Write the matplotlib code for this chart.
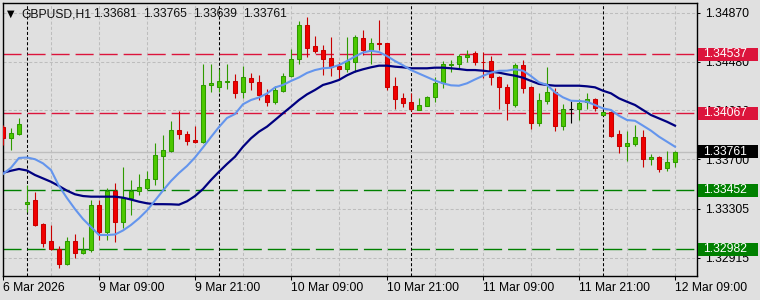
import matplotlib
matplotlib.use("Agg")
import matplotlib.pyplot as plt
from matplotlib.patches import Rectangle
from matplotlib.transforms import blended_transform_factory

plt.rcParams['font.family'] = ['Liberation Sans', 'DejaVu Sans']
plt.rcParams['lines.scale_dashes'] = False

# GBPUSD H1 bars, 6 Mar 21:00 .. 12 Mar 09:00
opens = [1.33957, 1.33867, 1.33901, 1.33346, 1.33374, 1.33183, 1.33047, 1.32986, 1.32861, 1.33047,
         1.32949, 1.32975, 1.33334, 1.33115, 1.33449, 1.33201, 1.33393, 1.33449, 1.33473, 1.33540,
         1.33728, 1.33768, 1.33933, 1.33901, 1.33853, 1.33838, 1.34289, 1.34273, 1.34318, 1.34325,
         1.34233, 1.34346, 1.34314, 1.34210, 1.34159, 1.34247, 1.34361, 1.34498, 1.34770, 1.34604,
         1.34572, 1.34506, 1.34444, 1.34424, 1.34479, 1.34668, 1.34572, 1.34626, 1.34626, 1.34285,
         1.34189, 1.34154, 1.34097, 1.34127, 1.34193, 1.34305, 1.34456, 1.34460, 1.34519, 1.34546,
         1.34478, 1.34482, 1.34357, 1.34275, 1.34133, 1.34452, 1.34279, 1.33987, 1.34167, 1.34234,
         1.33968, 1.34099, 1.34103, 1.34158, 1.34179, 1.34057, 1.34075, 1.33899, 1.33808, 1.33822,
         1.33880, 1.33702, 1.33715, 1.33628, 1.33681]
highs = [1.33973, 1.33947, 1.34027, 1.33494, 1.33436, 1.33188, 1.33175, 1.33009, 1.33077, 1.33100,
         1.33077, 1.33374, 1.33374, 1.33473, 1.33508, 1.33635, 1.33534, 1.33582, 1.33606, 1.33832,
         1.33893, 1.34005, 1.34085, 1.33925, 1.33968, 1.34458, 1.34458, 1.34417, 1.34464, 1.34381,
         1.34444, 1.34388, 1.34373, 1.34261, 1.34282, 1.34386, 1.34580, 1.34804, 1.34836, 1.34684,
         1.34616, 1.34676, 1.34479, 1.34678, 1.34692, 1.34732, 1.34666, 1.34812, 1.34628, 1.34359,
         1.34226, 1.34226, 1.34186, 1.34205, 1.34357, 1.34482, 1.34492, 1.34542, 1.34572, 1.34562,
         1.34560, 1.34524, 1.34365, 1.34298, 1.34472, 1.34492, 1.34285, 1.34231, 1.34439, 1.34266,
         1.34143, 1.34163, 1.34182, 1.34226, 1.34185, 1.34079, 1.34085, 1.33933, 1.33925, 1.33973,
         1.33933, 1.33742, 1.33726, 1.33766, 1.33765]
lows = [1.33814, 1.33774, 1.33893, 1.33281, 1.33169, 1.33001, 1.32975, 1.32829, 1.32855, 1.32909,
        1.32945, 1.32957, 1.33055, 1.33055, 1.33039, 1.33148, 1.33255, 1.33414, 1.33454, 1.33494,
        1.33454, 1.33760, 1.33862, 1.33814, 1.33832, 1.33827, 1.34239, 1.34237, 1.34263, 1.34191,
        1.34189, 1.34253, 1.34173, 1.34127, 1.34139, 1.34234, 1.34357, 1.34463, 1.34519, 1.34551,
        1.34373, 1.34365, 1.34337, 1.34393, 1.34393, 1.34532, 1.34462, 1.34572, 1.34255, 1.34101,
        1.34119, 1.34089, 1.34091, 1.34121, 1.34157, 1.34269, 1.34397, 1.34419, 1.34479, 1.34452,
        1.34349, 1.34290, 1.34101, 1.34013, 1.34117, 1.34231, 1.33941, 1.33968, 1.34141, 1.33925,
        1.33933, 1.33991, 1.34013, 1.34103, 1.34085, 1.34053, 1.33877, 1.33752, 1.33688, 1.33806,
        1.33640, 1.33654, 1.33600, 1.33608, 1.33639]
closes = [1.33870, 1.33909, 1.33981, 1.33358, 1.33175, 1.33033, 1.32986, 1.32861, 1.33047, 1.32949,
          1.32975, 1.33334, 1.33121, 1.33450, 1.33201, 1.33393, 1.33449, 1.33476, 1.33542, 1.33734,
          1.33774, 1.33933, 1.33899, 1.33848, 1.33840, 1.34293, 1.34307, 1.34325, 1.34323, 1.34231,
          1.34355, 1.34313, 1.34210, 1.34159, 1.34250, 1.34361, 1.34498, 1.34770, 1.34591, 1.34567,
          1.34504, 1.34439, 1.34424, 1.34484, 1.34676, 1.34575, 1.34628, 1.34623, 1.34279, 1.34181,
          1.34151, 1.34103, 1.34131, 1.34197, 1.34306, 1.34459, 1.34460, 1.34524, 1.34534, 1.34479,
          1.34475, 1.34353, 1.34273, 1.34151, 1.34452, 1.34271, 1.33987, 1.34173, 1.34234, 1.33968,
          1.34101, 1.34099, 1.34147, 1.34179, 1.34106, 1.34075, 1.33887, 1.33808, 1.33827, 1.33880,
          1.33704, 1.33715, 1.33620, 1.33680, 1.33761]

# moving averages as shown on the chart
ma_fast = [1.33582, 1.33632, 1.33710, 1.33714, 1.33700, 1.33667, 1.33614, 1.33486, 1.33390, 1.33302,
           1.33223, 1.33159, 1.33095, 1.33095, 1.33099, 1.33131, 1.33175, 1.33228, 1.33291, 1.33370,
           1.33450, 1.33526, 1.33590, 1.33646, 1.33714, 1.33794, 1.33877, 1.33957, 1.34029, 1.34061,
           1.34139, 1.34173, 1.34193, 1.34225, 1.34273, 1.34293, 1.34325, 1.34353, 1.34389, 1.34412,
           1.34426, 1.34431, 1.34452, 1.34484, 1.34520, 1.34552, 1.34566, 1.34556, 1.34524, 1.34484,
           1.34450, 1.34412, 1.34384, 1.34356, 1.34328, 1.34306, 1.34290, 1.34287, 1.34306, 1.34337,
           1.34366, 1.34391, 1.34406, 1.34407, 1.34418, 1.34407, 1.34364, 1.34314, 1.34293, 1.34234,
           1.34194, 1.34167, 1.34165, 1.34159, 1.34133, 1.34106, 1.34093, 1.34047, 1.34013, 1.34007,
           1.33968, 1.33928, 1.33880, 1.33840, 1.33800]
ma_slow = [1.33592, 1.33608, 1.33622, 1.33610, 1.33574, 1.33547, 1.33520, 1.33486, 1.33449, 1.33420,
           1.33406, 1.33401, 1.33401, 1.33401, 1.33401, 1.33393, 1.33378, 1.33361, 1.33348, 1.33341,
           1.33341, 1.33340, 1.33337, 1.33364, 1.33406, 1.33462, 1.33534, 1.33600, 1.33662, 1.33720,
           1.33800, 1.33867, 1.33920, 1.33960, 1.34013, 1.34067, 1.34119, 1.34173, 1.34218, 1.34253,
           1.34293, 1.34311, 1.34333, 1.34370, 1.34399, 1.34418, 1.34434, 1.34447, 1.34447, 1.34439,
           1.34434, 1.34426, 1.34426, 1.34426, 1.34431, 1.34431, 1.34426, 1.34420, 1.34412, 1.34412,
           1.34407, 1.34399, 1.34391, 1.34378, 1.34367, 1.34351, 1.34325, 1.34301, 1.34293, 1.34287,
           1.34287, 1.34287, 1.34287, 1.34282, 1.34274, 1.34247, 1.34226, 1.34186, 1.34159, 1.34133,
           1.34093, 1.34053, 1.34026, 1.33999, 1.33968]

x_ticks = [0, 12, 24, 36, 48, 60, 72, 84]
x_labels = ["6 Mar 2026", "9 Mar 09:00", "9 Mar 21:00", "10 Mar 09:00", "10 Mar 21:00",
            "11 Mar 09:00", "11 Mar 21:00", "12 Mar 09:00"]
day_breaks = [3, 27, 51, 75]
y_ticks = [1.34870, 1.34480, 1.34090, 1.33700, 1.33305, 1.32915]
red_levels = [1.34537, 1.34067]
green_levels = [1.33452, 1.32982]
bid = 1.33761
header = ["GBPUSD,H1", "1.33681", "1.33765", "1.33639", "1.33761"]

BG = '#E0E0E0'
RED = '#DC143C'
GREEN = '#008000'
FS = 8.7

fig = plt.figure(figsize=(7.6, 3.0), dpi=100, facecolor=BG)
ax = fig.add_axes([2.5 / 760, 24 / 300, 694.5 / 760, 273.5 / 300])
ax.set_facecolor(BG)

n = len(opens)
xs = list(range(n))

# grid + day separators
for t in range(0, n, 6):
    ax.axvline(t, color='#BDBDBD', lw=0.75, ls=(0, (2.2, 1.5)), zorder=0.5)
for v in y_ticks:
    ax.axhline(v, color='#BDBDBD', lw=0.75, ls=(0, (2.2, 1.5)), zorder=0.5)
for d in day_breaks:
    ax.axvline(d, color='black', lw=0.75, ls=(0, (2.2, 1.5)), zorder=1)

# level lines
ax.axhline(bid, color='#BEBEBE', lw=1.0, zorder=1)
for v in red_levels:
    ax.axhline(v, color=RED, lw=1.0, ls=(0, (13, 4.3)), zorder=1.5)
for v in green_levels:
    ax.axhline(v, color=GREEN, lw=1.0, ls=(0, (13, 4.3)), zorder=1.5)

# candles
fills, edges = [], []
for o, c in zip(opens, closes):
    if c > o:
        fills.append('#4CC800'); edges.append('#2E9A00')
    elif c < o:
        fills.append('#F00000'); edges.append('#C80000')
    else:
        fills.append('black'); edges.append('black')

ax.vlines(xs, lows, highs, colors=edges, lw=0.8, zorder=3)
ax.bar(xs, [abs(c - o) for o, c in zip(opens, closes)],
       bottom=[min(o, c) for o, c in zip(opens, closes)],
       width=0.6, color=fills, edgecolor=edges, lw=0.75, zorder=4)

# moving averages
ax.plot(xs, ma_slow, color='#000080', lw=1.6, zorder=5)
ax.plot(xs, ma_fast, color='#6495ED', lw=1.5, zorder=5)

ax.set_xlim(-0.06, 86.75)
ax.set_ylim(1.327675, 1.349514)

# axes
for s in ax.spines.values():
    s.set_color('black')
    s.set_linewidth(1.0)
ax.yaxis.tick_right()
ax.set_yticks(y_ticks, [f"{v:.5f}" for v in y_ticks])
ax.set_xticks(x_ticks, x_labels)
ax.tick_params(axis='y', length=2.5, width=0.75, pad=3, labelsize=FS, colors='black')
ax.tick_params(axis='x', length=3, width=0.75, pad=1.5, labelsize=FS, colors='black')
for lbl in ax.get_xticklabels():
    lbl.set_horizontalalignment('left')

# price tags on the right scale
tr = blended_transform_factory(ax.transAxes, ax.transData)
box_h = 0.00105
tags = [(v, RED) for v in red_levels] + [(v, GREEN) for v in green_levels] + [(bid, 'black')]
for price, col in tags:
    ax.add_patch(Rectangle((1.0 + 1.3 / 694.5, price - box_h / 2), 60 / 694.5, box_h,
                           transform=tr, facecolor=col, edgecolor='none',
                           clip_on=False, zorder=10))
    ax.text(1.0 + 6.5 / 694.5, price, f"{price:.5f}", transform=tr, color='white',
            fontsize=FS, va='center', ha='left', zorder=11, clip_on=False)

# header line
base_y = 1 - 17.3 / 300
fig.text(6.5 / 760, base_y + 1 / 300, "\u25bc", fontsize=7, color='black',
         family=['DejaVu Sans'], va='baseline', ha='left')
fig.text(21 / 760, base_y, header[0], fontsize=FS, color='#111111', va='baseline', ha='left')
for k, s in enumerate(header[1:]):
    fig.text((93.5 + 50 * k) / 760, base_y, s, fontsize=FS, color='#111111',
             va='baseline', ha='left')

fig.savefig('out.png', dpi=100, facecolor=BG)
